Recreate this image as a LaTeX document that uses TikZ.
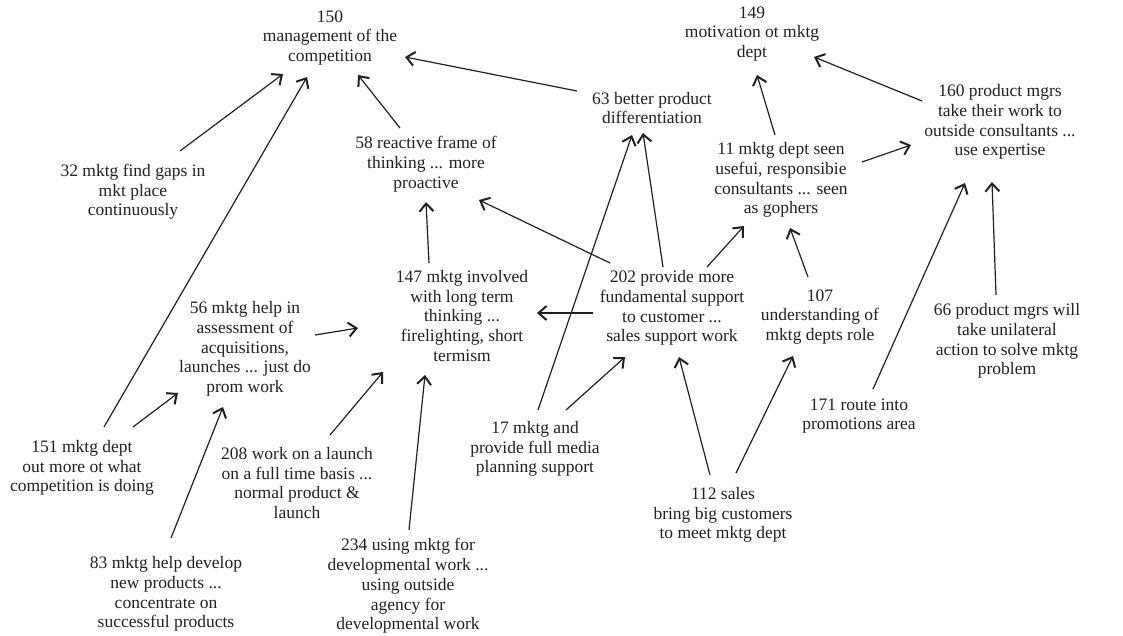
\documentclass[tikz,border=0pt]{standalone}
\usepackage{fontspec}
\setmainfont{Liberation Serif}
\usetikzlibrary{arrows.meta,calc}
\definecolor{ink}{HTML}{231F20}
\begin{document}
\begin{tikzpicture}[x=1pt,y=-1pt,
  lbl/.style={align=center,inner sep=0pt,text=ink,font=\fontsize{17.5}{19.7}\selectfont},
  arr/.style={draw=ink,line width=1.2pt,-{Straight Barb[length=8pt,width=14pt,line width=2pt]}}]
\useasboundingbox (0,0) rectangle (1123,635);
% nodes
\node[lbl] (n150) at (330,38) {150\\management of the\\competition};
\node[lbl] (n149) at (752,34) {149\\motivation ot mktg\\dept};
\node[lbl] (n63) at (652,108) {63 better product\\differentiation};
\node[lbl] (n160) at (1000,122) {160 product mgrs\\take their work to\\outside consultants ...\\use expertise};
\node[lbl] (n11) at (781,180) {11 mktg dept seen\\usefui, responsibie\\consultants ... seen\\as gophers};
\node[lbl] (n58) at (426,164) {58 reactive frame of\\thinking ... more\\proactive};
\node[lbl] (n32) at (133,192) {32 mktg find gaps in\\mkt place\\continuously};
\node[lbl] (n147) at (462,316) {147 mktg involved\\with long term\\thinking ...\\firelighting, short\\termism};
\node[lbl] (n202) at (672,308) {202 provide more\\fundamental support\\to customer ...\\sales support work};
\node[lbl] (n107) at (820,317) {107\\understanding of\\mktg depts role};
\node[lbl] (n66) at (1007,341) {66 product mgrs will\\take unilateral\\action to solve mktg\\problem};
\node[lbl] (n56) at (245,349) {56 mktg help in\\assessment of\\acquisitions,\\launches ... just do\\prom work};
\node[lbl] (n151) at (82,468) {151 mktg dept\\out more ot what\\competition is doing};
\node[lbl] (n208) at (297,483) {208 work on a launch\\on a full time basis ...\\normal product \&\\launch};
\node[lbl] (n17) at (535,449) {17 mktg and\\provide full media\\planning support};
\node[lbl] (n112) at (723,515) {112 sales\\bring big customers\\to meet mktg dept};
\node[lbl] (n171) at (859,416) {171 route into\\promotions area};
\node[lbl] (n83) at (166,594) {83 mktg help develop\\new products ...\\concentrate on\\successful products};
\node[lbl] (n234) at (408,586) {234 using mktg for\\developmental work ...\\using outside\\agency for\\developmental work};
% connectors
\draw[arr] ($(n63)+(-75,-17)$) -- ($(n150)+(75,19)$);
\draw[arr] ($(n32)+(47,-41)$) -- ($(n150)+(-47,36)$);
\draw[arr] ($(n151)+(22,-41)$) -- ($(n150)+(-23,39)$);
\draw[arr] ($(n58)+(-26,-36)$) -- ($(n150)+(28,37)$);
\draw[arr] ($(n147)+(-33,-53)$) -- ($(n58)+(0,38)$);
\draw[arr] ($(n202)+(-62,-45)$) -- ($(n58)+(53,36)$);
\draw[arr] ($(n202)+(-79,5)$) -- ($(n147)+(75,-3)$);
\draw[arr] ($(n202)+(-9,-41)$) -- ($(n63)+(-9,25)$);
\draw[arr] ($(n17)+(3,-39)$) -- ($(n63)+(-20,27)$);
\draw[arr] ($(n17)+(31,-39)$) -- ($(n202)+(-47,49)$);
\draw[arr] ($(n202)+(35,-41)$) -- ($(n11)+(-37,46)$);
\draw[arr] ($(n107)+(-12,-40)$) -- ($(n11)+(9,48)$);
\draw[arr] ($(n11)+(-6,-45)$) -- ($(n149)+(5,41)$);
\draw[arr] ($(n11)+(81,-18)$) -- ($(n160)+(-89,23)$);
\draw[arr] ($(n160)+(-78,-21)$) -- ($(n149)+(62,23)$);
\draw[arr] ($(n171)+(14,-27)$) -- ($(n160)+(-35,61)$);
\draw[arr] ($(n66)+(-11,-46)$) -- ($(n160)+(-8,60)$);
\draw[arr] ($(n112)+(-13,-40)$) -- ($(n202)+(7,49)$);
\draw[arr] ($(n112)+(13,-42)$) -- ($(n107)+(-27,39)$);
\draw[arr] ($(n56)+(70,-14)$) -- ($(n147)+(-104,12)$);
\draw[arr] ($(n151)+(51,-41)$) -- ($(n56)+(-67,44)$);
\draw[arr] ($(n83)+(5,-56)$) -- ($(n56)+(-22,58)$);
\draw[arr] ($(n208)+(33,-48)$) -- ($(n147)+(-79,56)$);
\draw[arr] ($(n234)+(1,-56)$) -- ($(n147)+(-37,59)$);
\end{tikzpicture}
\end{document}
